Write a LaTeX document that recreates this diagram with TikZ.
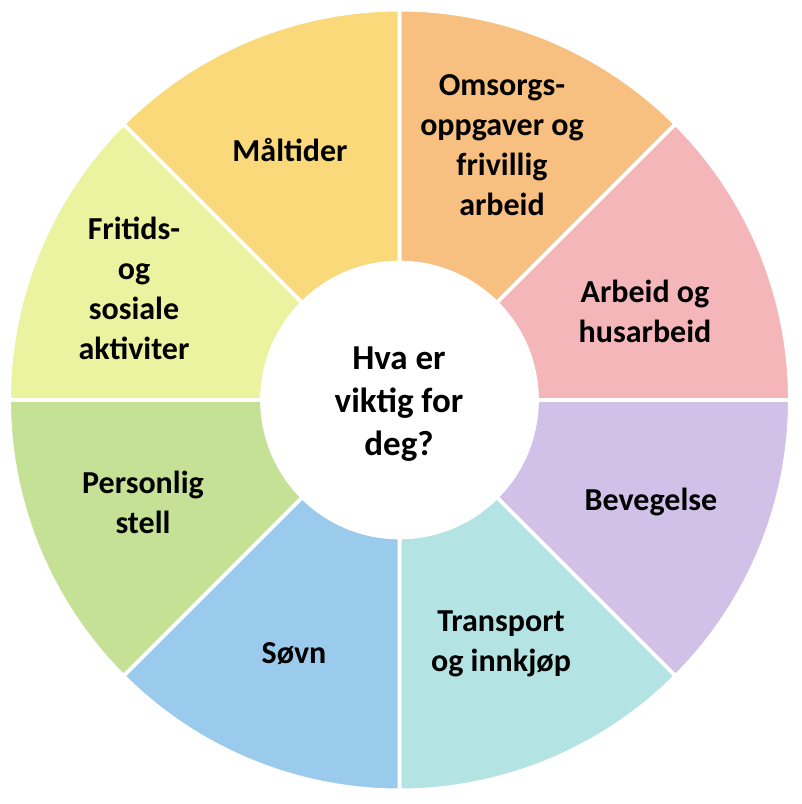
\documentclass[tikz,border=0pt]{standalone}
\usepackage{fontspec}
\setmainfont{Carlito}
\definecolor{cMal}{HTML}{FAD97B}
\definecolor{cOms}{HTML}{F8C080}
\definecolor{cArb}{HTML}{F4B6B8}
\definecolor{cBev}{HTML}{D1C0E8}
\definecolor{cTra}{HTML}{B3E3E2}
\definecolor{cSov}{HTML}{9BCBEC}
\definecolor{cPer}{HTML}{C4E195}
\definecolor{cFri}{HTML}{EBF3A0}
\begin{document}
\begin{tikzpicture}[x=1pt,y=1pt,
  sector/.style={draw=white, line width=3.6pt, line join=round},
  lbl/.style={font=\bfseries\fontsize{32}{40}\selectfont, align=center, anchor=base, inner sep=0pt},
  hublbl/.style={font=\bfseries\fontsize{35}{43}\selectfont, align=center, anchor=base, inner sep=0pt}
]
\useasboundingbox (-399.5,-404) rectangle (402.5,400);
\def\ri{137.5}
\def\ro{390.3}
\foreach \a/\b/\c in {45/90/cOms, 0/45/cArb, -45/0/cBev, -90/-45/cTra, -135/-90/cSov, 180/225/cPer, 135/180/cFri, 90/135/cMal}{
  \path[fill=\c, sector] (\a:\ri pt) arc[start angle=\a, end angle=\b, radius=\ri pt]
    -- (\b:\ro pt) arc[start angle=\b, end angle=\a, radius=\ro pt] -- cycle;
}
\node (hub) [circle, fill=white, inner sep=0pt, minimum size=278pt] at (0,0) {};
\node (q) [hublbl] at (-0.5,-55) {Hva er\\viktig for\\deg?};
\node (mal) [lbl] at (-109.5,239) {Måltider};
\node (oms) [lbl] at (102.5,185) {Omsorgs-\\oppgaver og\\frivillig\\arbeid};
\node (arb) [lbl] at (245.5,57.3) {Arbeid og\\husarbeid};
\node (bev) [lbl] at (251.5,-110) {Bevegelse};
\node (tra) [lbl] at (101.5,-271) {Transport\\og innkjøp};
\node (sov) [lbl] at (-105.5,-263) {Søvn};
\node (per) [lbl] at (-256.5,-133) {Personlig\\stell};
\node (fri) [lbl] at (-265.5,40.7) {Fritids-\\og\\sosiale\\aktiviter};
\end{tikzpicture}
\end{document}
